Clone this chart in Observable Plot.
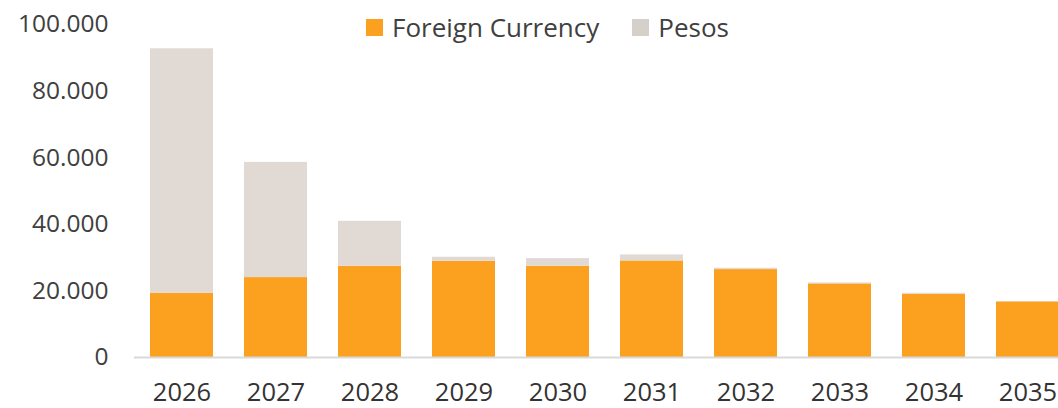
<!DOCTYPE html>
<html>
<head>
<meta charset="utf-8">
<script src="https://cdn.jsdelivr.net/npm/d3@7"></script>
<script src="https://cdn.jsdelivr.net/npm/@observablehq/plot@0.6"></script>
<style>
  html, body { margin: 0; padding: 0; background: #fff; overflow: hidden; width: 1058px; height: 408px; }
  #wrap { position: relative; width: 1058px; height: 408px; overflow: hidden; }
  #legend { position: absolute; top: 9px; left: 366px; font-family: "Open Sans", sans-serif; font-size: 26px; color: #404040; display: flex; align-items: center; white-space: nowrap; }
  #legend .sw { display: inline-block; width: 17px; height: 17px; margin-right: 9px; }
  #legend .item { display: flex; align-items: center; margin-right: 33px; }
</style>
</head>
<body>
<div id="wrap"><div id="legend"></div></div>
<script>
const years = ["2026","2027","2028","2029","2030","2031","2032","2033","2034","2035"];
const foreignCurrency = [19300, 24000, 27400, 28900, 27400, 29000, 26400, 22100, 19000, 16700];
const pesos = [73400, 34600, 13500, 1200, 2300, 1800, 400, 300, 300, 100];
const seriesNames = ["Foreign Currency", "Pesos"];
const seriesColors = ["#FCA020", "#E0D9D4"];
const yTicks = [0, 20000, 40000, 60000, 80000, 100000];

const data = [];
years.forEach((y, i) => {
  data.push({year: y, series: seriesNames[0], value: foreignCurrency[i]});
  data.push({year: y, series: seriesNames[1], value: pesos[i]});
});

const fmt = d3.formatLocale({decimal: ",", thousands: ".", grouping: [3], currency: ["", ""]}).format(",d");

const chart = Plot.plot({
  width: 1075,
  height: 408,
  marginLeft: 134,
  marginRight: 0,
  marginTop: 24,
  marginBottom: 51,
  style: {fontFamily: "Open Sans, sans-serif", background: "transparent", overflow: "visible", maxWidth: "none"},
  x: {domain: years, paddingInner: 0.333, paddingOuter: 0.1667, label: null},
  y: {domain: [0, 100000], label: null},
  color: {domain: seriesNames, range: seriesColors},
  marks: [
    Plot.barY(data, Plot.stackY({x: "year", y: "value", fill: "series", order: seriesNames})),
    Plot.ruleY([0], {stroke: "#D9D9D9", strokeWidth: 2}),
    Plot.axisY({ticks: yTicks, tickFormat: fmt, tickSize: 0, tickPadding: 26, fontSize: 24.5, fill: "#404040", label: null}),
    Plot.axisX({tickSize: 0, tickPadding: 25, fontSize: 25.5, fill: "#333333", label: null})
  ]
});
chart.style.position = "absolute";
chart.style.left = "0px";
chart.style.top = "0px";
chart.style.maxWidth = "none";
chart.setAttribute("width", 1075);
chart.style.width = "1075px";
chart.style.height = "408px";
document.getElementById("wrap").appendChild(chart);

const legend = document.getElementById("legend");
seriesNames.forEach((name, i) => {
  const item = document.createElement("span");
  item.className = "item";
  const sw = document.createElement("span");
  sw.className = "sw";
  sw.style.background = i === 1 ? "#D6D0CA" : seriesColors[i];
  const t = document.createElement("span");
  t.textContent = name;
  item.appendChild(sw);
  item.appendChild(t);
  legend.appendChild(item);
});
document.getElementById("wrap").appendChild(legend);
</script>
</body>
</html>
